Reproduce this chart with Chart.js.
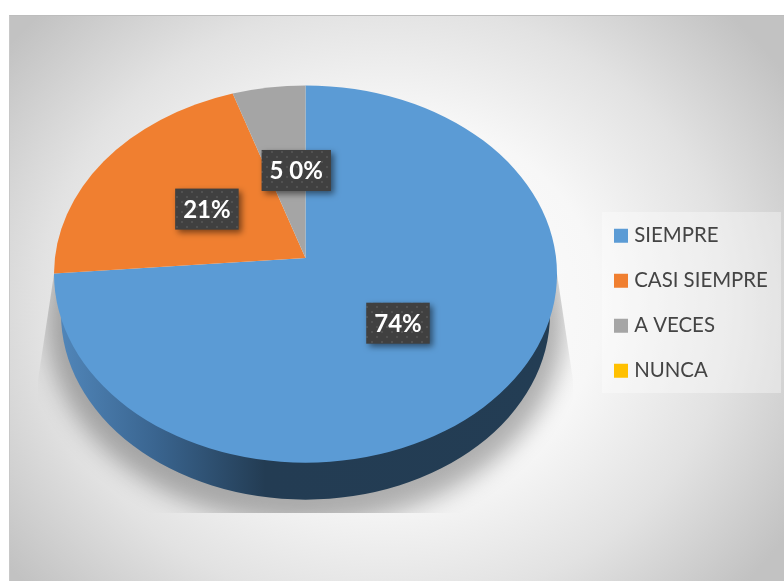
<!DOCTYPE html>
<html>
<head>
<meta charset="utf-8">
<script src="https://cdn.jsdelivr.net/npm/chart.js@4"></script>
<style>
  html, body { margin: 0; padding: 0; background: #fff; overflow: hidden; }
  #panel {
    position: absolute; left: 9px; top: 15px; width: 775px; height: 566px;
    box-sizing: border-box; border-top: 1px solid #bdbdbd; border-left: 1px solid #c8c8c8;
    background: radial-gradient(ellipse 480px 420px at 375px 290px, #ffffff 0%, #f7f7f7 45%, #e2e2e2 72%, #c2c2c2 100%);
  }
  #wrap { position: absolute; left: 0; top: 0; width: 784px; height: 581px; }
</style>
</head>
<body>
<div id="panel"></div>
<div id="wrap"><canvas id="pie" width="784" height="581"></canvas></div>
<script>
const categories = ['SIEMPRE', 'CASI SIEMPRE', 'A VECES', 'NUNCA'];
const values = [73.7, 21.2, 5.1, 0];
const valueLabels = ['74%', '21%', '5 0%', ''];
const colors = ['#5B9BD5', '#F07F30', '#A5A5A5', '#FFC000'];

// the picture is a tilted pie: squashed ellipse, apex above its centre, a wall below
const squash = 0.75;
const apexLift = 16;
const wallDrop = 37;
const wallInset = 7;
// where each label box sits, as a share of the way from apex to rim
const labelReach = [[0.5, 0.51], [0.47, 0.47], [0.23, 0.47], [0, 0]];

function rimPoint(cx, cy, rx, ry, angle) {
  // ray from the apex, in the squashed plane, hitting the ellipse
  const ay = -apexLift / ry;
  const dx = Math.cos(angle);
  const dy = Math.sin(angle);
  const b = ay * dy;
  const c = ay * ay - 1;
  const t = -b + Math.sqrt(b * b - c);
  return Math.atan2(ay + t * dy, t * dx);
}

function dotPattern(ctx) {
  const tile = document.createElement('canvas');
  tile.width = 10;
  tile.height = 10;
  const t = tile.getContext('2d');
  t.fillStyle = '#404040';
  t.fillRect(0, 0, 10, 10);
  t.fillStyle = '#515151';
  t.fillRect(1, 1, 2, 2);
  t.fillRect(6, 6, 2, 2);
  return ctx.createPattern(tile, 'repeat');
}

const tiltedPie = {
  id: 'tiltedPie',
  beforeDraw(chart) {
    const ctx = chart.ctx;
    ctx.save();
    ctx.fillStyle = 'rgba(255,255,255,0.35)';
    ctx.fillRect(602, 212, 179, 181);
    ctx.restore();
  },
  beforeDatasetDraw(chart, args) {
    const ctx = chart.ctx;
    const arcs = args.meta.data;
    const cx = arcs[0].x;
    const cy = arcs[0].y;
    const rx = arcs[0].outerRadius;
    const ry = rx * squash;
    const apexY = cy - apexLift;
    const floorRx = rx - wallInset;
    const floorRy = ry - 3;
    const floorY = cy + ry + wallDrop - floorRy;

    // soft shadow on the wall behind the pie, the caster itself kept off canvas
    ctx.save();
    ctx.beginPath();
    ctx.moveTo(cx - rx, cy);
    ctx.lineTo(cx - rx - 16, cy + 106);
    ctx.lineTo(cx - rx - 16, cy + 239);
    ctx.lineTo(cx + rx + 16, cy + 239);
    ctx.lineTo(cx + rx + 16, cy + 106);
    ctx.lineTo(cx + rx, cy);
    ctx.closePath();
    ctx.clip();
    ctx.shadowColor = 'rgba(0,0,0,0.3)';
    ctx.shadowBlur = 24;
    ctx.shadowOffsetX = 2000;
    ctx.fillStyle = '#000';
    ctx.beginPath();
    ctx.ellipse(cx - 2000, floorY + 8, floorRx + 14, floorRy + 16, 0, 0, Math.PI * 2);
    ctx.fill();
    ctx.restore();

    // pie wall
    const wall = ctx.createLinearGradient(cx - rx, 0, cx + rx, 0);
    wall.addColorStop(0, '#5288BC');
    wall.addColorStop(0.2, '#3A6590');
    wall.addColorStop(0.42, '#233C53');
    wall.addColorStop(1, '#233D54');
    ctx.save();
    ctx.fillStyle = wall;
    ctx.beginPath();
    ctx.moveTo(cx - rx, cy);
    ctx.lineTo(cx + rx, cy);
    ctx.lineTo(cx + floorRx, floorY);
    ctx.ellipse(cx, floorY, floorRx, floorRy, 0, 0, Math.PI);
    ctx.closePath();
    ctx.fill();
    ctx.restore();

    // slices from the arc elements chart.js laid out
    arcs.forEach((arc, i) => {
      if (values[i] === 0) return;
      const from = rimPoint(cx, cy, rx, ry, arc.startAngle);
      const to = rimPoint(cx, cy, rx, ry, arc.endAngle);
      ctx.save();
      ctx.fillStyle = arc.options.backgroundColor;
      ctx.beginPath();
      ctx.moveTo(cx, apexY);
      ctx.ellipse(cx, cy, rx, ry, 0, from, to);
      ctx.closePath();
      ctx.fill();
      ctx.restore();
    });
    return false;
  },
  afterDatasetsDraw(chart) {
    const ctx = chart.ctx;
    const arcs = chart.getDatasetMeta(0).data;
    const fill = dotPattern(ctx);
    ctx.font = 'bold 24px Lato';
    ctx.textAlign = 'center';
    ctx.textBaseline = 'middle';
    arcs.forEach((arc, i) => {
      if (!valueLabels[i]) return;
      const mid = (arc.startAngle + arc.endAngle) / 2;
      const x = arc.x + Math.cos(mid) * arc.outerRadius * labelReach[i][0];
      const y = arc.y - apexLift + Math.sin(mid) * arc.outerRadius * squash * labelReach[i][1];
      const w = ctx.measureText(valueLabels[i]).width + 16;
      const h = 41;
      ctx.save();
      ctx.shadowColor = 'rgba(0,0,0,0.5)';
      ctx.shadowBlur = 6;
      ctx.shadowOffsetX = 3;
      ctx.shadowOffsetY = 3;
      ctx.fillStyle = fill;
      ctx.fillRect(x - w / 2, y - h / 2, w, h);
      ctx.restore();
      ctx.fillStyle = '#fff';
      ctx.fillText(valueLabels[i], x, y + 1);
    });
  },
  afterLayout(chart) {
    // legend sits in its own box right of the pie
    const legend = chart.legend;
    legend.left = 618 - legend.options.labels.padding;
    legend.top = 201;
    legend.right = legend.left + legend.width;
    legend.bottom = legend.top + legend.height;
  }
};

new Chart(document.getElementById('pie'), {
  type: 'pie',
  data: {
    labels: categories,
    datasets: [{ data: values, backgroundColor: colors, borderWidth: 0 }]
  },
  plugins: [tiltedPie],
  options: {
    responsive: false,
    animation: false,
    layout: { padding: { left: 54, right: 227, top: 22, bottom: 55 } },
    plugins: {
      tooltip: { enabled: false },
      legend: {
        position: 'chartArea',
        align: 'start',
        labels: {
          usePointStyle: true,
          pointStyle: 'rect',
          boxWidth: 6,
          boxHeight: 14,
          padding: 24.6,
          color: '#444444',
          font: { family: 'Lato', size: 20.4 }
        }
      }
    }
  }
});
</script>
</body>
</html>
